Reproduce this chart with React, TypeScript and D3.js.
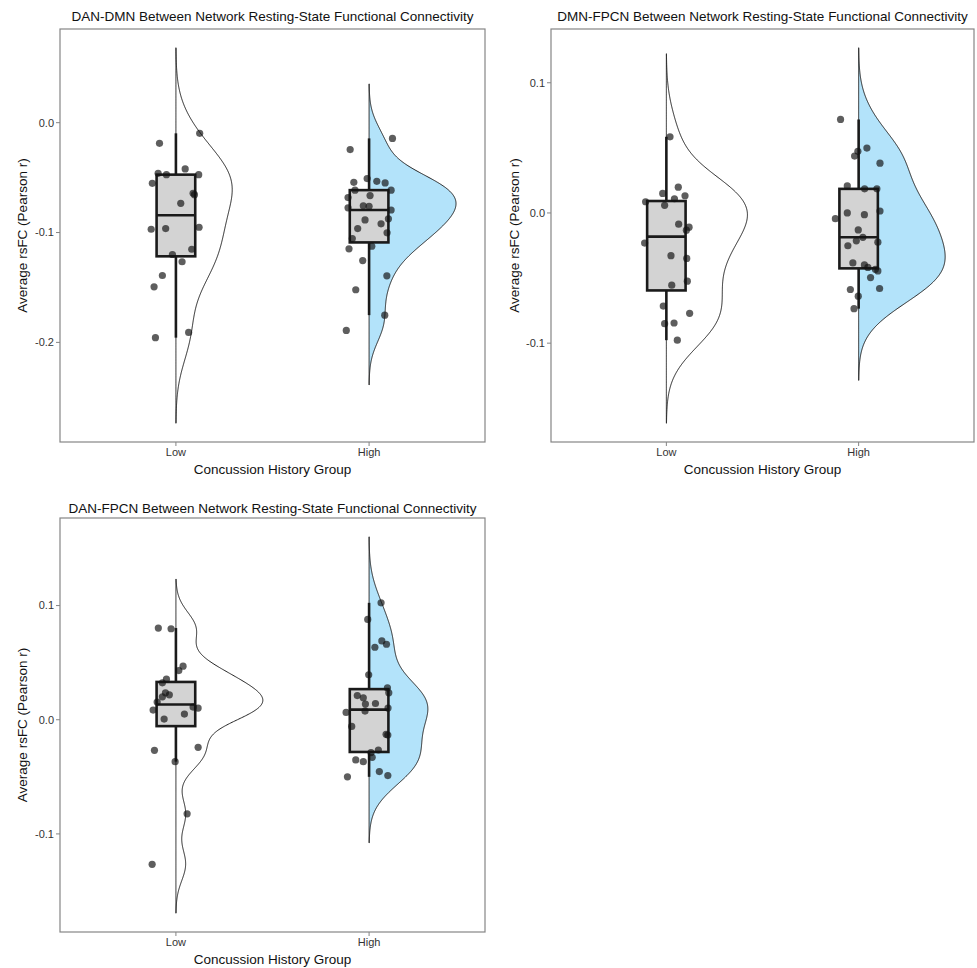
import React from "react";
import * as d3 from "d3";

// ---------- data ----------
const groups = ["Low", "High"];

const panelTitles = [
  "DAN-DMN Between Network Resting-State Functional Connectivity",
  "DMN-FPCN Between Network Resting-State Functional Connectivity",
  "DAN-FPCN Between Network Resting-State Functional Connectivity",
];

const xAxisTitle = "Concussion History Group";
const yAxisTitle = "Average rsFC (Pearson r)";

// DAN-DMN
const danDmnLow = [-0.0188, -0.0097, -0.0461, -0.0473, -0.0421, -0.0473, -0.0552, -0.0643, -0.0655, -0.0734, -0.097, -0.0964, -0.0952, -0.1152, -0.12, -0.1266, -0.1391, -0.1494, -0.1909, -0.1957];
const danDmnLowJitter = [-0.085, 0.123, -0.092, -0.049, 0.048, 0.118, -0.122, 0.089, 0.096, 0.025, -0.128, -0.053, 0.12, 0.082, -0.018, 0.032, -0.07, -0.113, 0.066, -0.106];
const danDmnHigh = [-0.0143, -0.0245, -0.0509, -0.0534, -0.0548, -0.0543, -0.0614, -0.0614, -0.0664, -0.0682, -0.0757, -0.0761, -0.0775, -0.0795, -0.0875, -0.0885, -0.0921, -0.0964, -0.1003, -0.1055, -0.1125, -0.1148, -0.1255, -0.1394, -0.1521, -0.1752, -0.1891];
const danDmnHighJitter = [0.121, -0.098, -0.01, 0.04, 0.083, -0.079, -0.073, 0.114, 0.005, -0.109, -0.03, 0.0, -0.109, 0.114, 0.1, -0.021, 0.062, -0.059, 0.093, -0.087, 0.014, -0.104, -0.033, 0.092, -0.069, 0.081, -0.118];
const danDmnTicks = [-0.2, -0.1, 0.0];

// DMN-FPCN
const dmnFpcnLow = [0.0585, 0.015, 0.0198, 0.0109, 0.0132, 0.0086, 0.0059, -0.0086, -0.0109, -0.0132, -0.0231, -0.0328, -0.0349, -0.0524, -0.0555, -0.0715, -0.0771, -0.085, -0.0845, -0.0977];
const dmnFpcnLowJitter = [0.019, -0.019, 0.062, 0.042, 0.097, -0.108, -0.009, 0.064, 0.118, 0.104, -0.113, 0.024, 0.106, 0.109, 0.028, -0.016, 0.121, -0.009, 0.04, 0.057];
const dmnFpcnHigh = [0.0718, 0.0473, 0.0498, 0.0437, 0.0382, 0.0208, 0.0185, 0.0185, 0.0015, 0.0, -0.0013, -0.0044, -0.013, -0.0187, -0.0214, -0.0224, -0.0252, -0.0384, -0.0399, -0.0418, -0.0433, -0.0445, -0.0496, -0.0588, -0.058, -0.0639, -0.0735];
const dmnFpcnHighJitter = [-0.094, -0.004, 0.043, -0.021, 0.111, -0.059, 0.031, 0.095, 0.111, -0.059, 0.03, -0.121, -0.002, 0.022, -0.012, 0.1, -0.056, -0.03, 0.03, 0.048, 0.087, 0.1, 0.062, -0.043, 0.109, -0.002, -0.024];
const dmnFpcnTicks = [-0.1, 0.0, 0.1];

// DAN-FPCN
const danFpcnLow = [0.0803, 0.0797, 0.0469, 0.0431, 0.0355, 0.0323, 0.0236, 0.0218, 0.0201, 0.0155, 0.0111, 0.0102, 0.0085, 0.005, 0.0006, -0.0268, -0.0242, -0.0367, -0.0824, -0.1266];
const danFpcnLowJitter = [-0.091, -0.025, 0.037, 0.015, -0.049, -0.07, -0.054, -0.034, -0.07, -0.097, 0.089, 0.115, -0.118, 0.044, -0.061, -0.111, 0.115, -0.004, 0.058, -0.123];
const danFpcnHigh = [0.1024, 0.0879, 0.069, 0.0661, 0.0635, 0.0393, 0.0279, 0.0236, 0.0212, 0.0192, 0.0137, 0.0142, 0.0102, 0.0064, 0.0076, -0.0059, -0.0128, -0.0134, -0.0265, -0.0288, -0.0329, -0.0352, -0.0367, -0.0454, -0.0489, -0.05];
const danFpcnHighJitter = [0.062, -0.007, 0.066, 0.09, 0.03, -0.002, 0.095, 0.102, -0.061, -0.03, -0.019, 0.033, 0.098, -0.119, -0.021, -0.09, 0.088, 0.097, 0.048, 0.01, 0.016, -0.069, -0.03, 0.053, 0.097, -0.112];
const danFpcnTicks = [-0.1, 0.0, 0.1];

// ---------- layout & style ----------
const W = 977;
const H = 968;
const FONT = "'Liberation Sans', Arial, Helvetica, sans-serif";
const frames = [
  { left: 60, right: 485, top: 29, bottom: 442, titleY: 21, yTitleX: 27 },
  { left: 551, right: 974, top: 29, bottom: 442, titleY: 21, yTitleX: 519 },
  { left: 60, right: 485, top: 518, bottom: 932, titleY: 513, yTitleX: 27 },
];
const violinFill = ["#ffffff", "#B3E3FA"];

type Stat = {
  vals: number[];
  jit: number[];
  dens: { y: number; d: number }[];
  from: number;
  to: number;
  q1: number;
  med: number;
  q3: number;
  lo: number;
  hi: number;
};

function nrd0(x: number[]) {
  const s = [...x].sort(d3.ascending);
  const sd = d3.deviation(s) as number;
  const iqr = (d3.quantileSorted(s, 0.75) as number) - (d3.quantileSorted(s, 0.25) as number);
  let lo = Math.min(sd, iqr / 1.34);
  if (!lo) lo = sd || 1;
  return 0.9 * lo * Math.pow(s.length, -0.2);
}

function makeStat(vals: number[], jit: number[]): Stat {
  const s = [...vals].sort(d3.ascending);
  const bw = nrd0(vals);
  const from = (d3.min(s) as number) - 3 * bw;
  const to = (d3.max(s) as number) + 3 * bw;
  const n = 512;
  const dens = d3.range(n).map((i) => {
    const y = from + ((to - from) * i) / (n - 1);
    const d =
      (d3.mean(vals, (v) => Math.exp(-0.5 * ((y - v) / bw) ** 2) / Math.sqrt(2 * Math.PI)) as number) / bw;
    return { y, d };
  });
  const q1 = d3.quantileSorted(s, 0.25) as number;
  const med = d3.quantileSorted(s, 0.5) as number;
  const q3 = d3.quantileSorted(s, 0.75) as number;
  const iqr = q3 - q1;
  const lo = d3.min(s.filter((v) => v >= q1 - 1.5 * iqr)) as number;
  const hi = d3.max(s.filter((v) => v <= q3 + 1.5 * iqr)) as number;
  return { vals, jit, dens, from, to, q1, med, q3, lo, hi };
}

function Panel({
  title,
  data,
  ticks,
  frame,
}: {
  title: string;
  data: [number[], number[]][];
  ticks: number[];
  frame: (typeof frames)[number];
}) {
  const { left, right, top, bottom } = frame;
  const stats = data.map(([v, j]) => makeStat(v, j));
  const lo = d3.min(stats, (s) => s.from) as number;
  const hi = d3.max(stats, (s) => s.to) as number;
  const pad = 0.05 * (hi - lo);
  const y = d3.scaleLinear().domain([lo - pad, hi + pad]).range([bottom, top]);
  const x = d3.scaleLinear().domain([0.4, 2.6]).range([left, right]);
  const maxD = d3.max(stats, (s) => d3.max(s.dens, (p) => p.d) as number) as number;
  const cx = (left + right) / 2;
  const cy = (top + bottom) / 2;

  return (
    <g>
      <text x={cx} y={frame.titleY} textAnchor="middle" fontSize={13.5} fill="#111">
        {title}
      </text>
      <rect x={left} y={top} width={right - left} height={bottom - top} fill="#fff" stroke="none" />
      {stats.map((s, gi) => {
        const pos = gi + 1;
        const area = d3
          .area<{ y: number; d: number }>()
          .x0(() => x(pos))
          .x1((p) => x(pos + (0.45 * p.d) / maxD))
          .y((p) => y(p.y));
        return (
          <path
            key={"v" + gi}
            d={area(s.dens) as string}
            fill={violinFill[gi]}
            stroke="#222"
            strokeWidth={1}
          />
        );
      })}
      {stats.map((s, gi) => {
        const pos = gi + 1;
        const xc = x(pos);
        return (
          <g key={"b" + gi} stroke="#1a1a1a" strokeWidth={2.6}>
            <line x1={xc} x2={xc} y1={y(s.q3)} y2={y(s.hi)} />
            <line x1={xc} x2={xc} y1={y(s.q1)} y2={y(s.lo)} />
            <rect
              x={x(pos - 0.1)}
              y={y(s.q3)}
              width={x(pos + 0.1) - x(pos - 0.1)}
              height={y(s.q1) - y(s.q3)}
              fill="#D3D3D3"
            />
            <line x1={x(pos - 0.1)} x2={x(pos + 0.1)} y1={y(s.med)} y2={y(s.med)} />
          </g>
        );
      })}
      {stats.map((s, gi) => {
        const pos = gi + 1;
        return (
          <g key={"p" + gi}>
            {s.vals.map((v, i) => (
              <circle key={i} cx={x(pos + s.jit[i])} cy={y(v)} r={3.6} fill="#111" fillOpacity={0.68} />
            ))}
          </g>
        );
      })}
      <rect x={left} y={top} width={right - left} height={bottom - top} fill="none" stroke="#858585" strokeWidth={1.2} />
      {ticks.map((t) => (
        <g key={"yt" + t}>
          <line x1={left - 4} x2={left} y1={y(t)} y2={y(t)} stroke="#858585" strokeWidth={1} />
          <text x={left - 6} y={y(t)} dy="0.35em" textAnchor="end" fontSize={11} fill="#333">
            {d3.format(".1f")(t).replace("−", "-")}
          </text>
        </g>
      ))}
      {groups.map((g, gi) => (
        <g key={"xt" + g}>
          <line x1={x(gi + 1)} x2={x(gi + 1)} y1={bottom} y2={bottom + 4} stroke="#858585" strokeWidth={1} />
          <text x={x(gi + 1)} y={bottom + 14} textAnchor="middle" fontSize={11} fill="#333">
            {g}
          </text>
        </g>
      ))}
      <text x={cx} y={bottom + 32} textAnchor="middle" fontSize={13.5} fill="#111">
        {xAxisTitle}
      </text>
      <text
        transform={`translate(${frame.yTitleX},${cy}) rotate(-90)`}
        textAnchor="middle"
        fontSize={13.5}
        fill="#111"
      >
        {yAxisTitle}
      </text>
    </g>
  );
}

export default function App() {
  const panels = [
    { data: [[danDmnLow, danDmnLowJitter], [danDmnHigh, danDmnHighJitter]] as [number[], number[]][], ticks: danDmnTicks },
    { data: [[dmnFpcnLow, dmnFpcnLowJitter], [dmnFpcnHigh, dmnFpcnHighJitter]] as [number[], number[]][], ticks: dmnFpcnTicks },
    { data: [[danFpcnLow, danFpcnLowJitter], [danFpcnHigh, danFpcnHighJitter]] as [number[], number[]][], ticks: danFpcnTicks },
  ];
  return (
    <svg
      width={W}
      height={H}
      viewBox={`0 0 ${W} ${H}`}
      style={{ position: "absolute", left: 0, top: 0, background: "#fff" }}
      fontFamily={FONT}
    >
      <rect x={0} y={0} width={W} height={H} fill="#fff" />
      {panels.map((p, i) => (
        <Panel key={i} title={panelTitles[i]} data={p.data} ticks={p.ticks} frame={frames[i]} />
      ))}
    </svg>
  );
}
